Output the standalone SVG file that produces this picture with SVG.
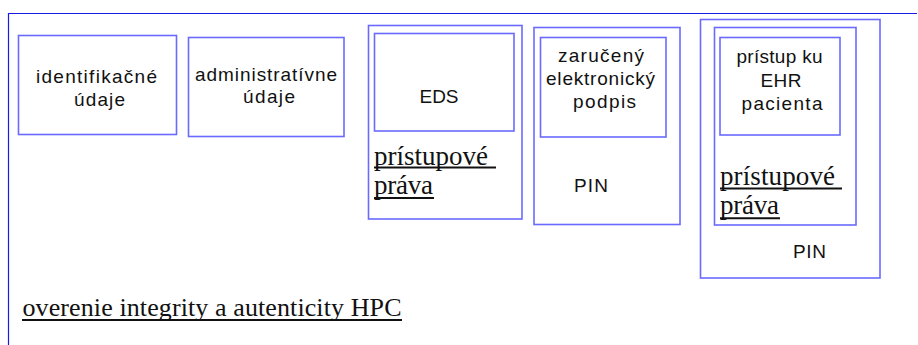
<svg xmlns="http://www.w3.org/2000/svg" width="918" height="345" viewBox="0 0 918 345">
  <style>
    .frame { stroke: #1a1ae6; stroke-width: 1.2; fill: none; }
    .box { stroke: #6a6aff; stroke-width: 1.6; fill: none; }
    .sans { font-family: "Liberation Sans", Arial, sans-serif; font-size: 19px; fill: #111; text-anchor: middle; }
    .serif { font-family: "Liberation Serif", "Times New Roman", serif; font-size: 27px; fill: #111; }
    .big { font-size: 26px; }
    .ul { stroke: #111; stroke-width: 2; }
  </style>
  <rect width="918" height="345" fill="#ffffff"/>

  <!-- outer frame (top and left edges only) -->
  <g id="frame">
    <line class="frame" x1="8" y1="13.5" x2="917" y2="13.5"/>
    <line class="frame" x1="8.5" y1="13" x2="8.5" y2="345"/>
  </g>

  <g id="identifikacne-udaje">
    <rect class="box" x="18.5" y="35.5" width="158" height="99"/>
    <text class="sans" x="96.5" y="83" textLength="121" lengthAdjust="spacing">identifikačné</text>
    <text class="sans" x="99.5" y="106" textLength="51" lengthAdjust="spacing">údaje</text>
  </g>

  <g id="administrativne-udaje">
    <rect class="box" x="188.5" y="37.5" width="155.5" height="99"/>
    <text class="sans" x="266" y="81" textLength="142" lengthAdjust="spacing">administratívne</text>
    <text class="sans" x="269" y="103" textLength="52" lengthAdjust="spacing">údaje</text>
  </g>

  <g id="eds">
    <rect class="box" x="368.5" y="25.5" width="153.5" height="193.5"/>
    <rect class="box" x="374.5" y="33.5" width="139.5" height="97.5"/>
    <text class="sans" x="439" y="103" textLength="39" lengthAdjust="spacing">EDS</text>
    <text class="serif" x="374" y="165" textLength="114" lengthAdjust="spacing">prístupové</text>
    <line class="ul" x1="374" y1="167.5" x2="496" y2="167.5"/>
    <text class="serif" x="374" y="193.5" textLength="59" lengthAdjust="spacing">práva</text>
    <line class="ul" x1="374" y1="198" x2="434" y2="198"/>
  </g>

  <g id="zaruceny-podpis">
    <rect class="box" x="534" y="27.5" width="146" height="197"/>
    <rect class="box" x="540.5" y="37.5" width="125.5" height="99.5"/>
    <text class="sans" x="601" y="62" textLength="86" lengthAdjust="spacing">zaručený</text>
    <text class="sans" x="600.5" y="85" textLength="109" lengthAdjust="spacing">elektronický</text>
    <text class="sans" x="604.5" y="108" textLength="63" lengthAdjust="spacing">podpis</text>
    <text class="sans" x="591" y="192" textLength="34" lengthAdjust="spacing">PIN</text>
  </g>

  <g id="pristup-ehr">
    <rect class="box" x="700.5" y="19.5" width="179.5" height="258.5"/>
    <rect class="box" x="714.5" y="27.5" width="141.5" height="197.5"/>
    <rect class="box" x="720" y="37.5" width="120" height="97.5"/>
    <text class="sans" x="779.5" y="63" textLength="86" lengthAdjust="spacing">prístup ku</text>
    <text class="sans" x="781" y="87" textLength="41" lengthAdjust="spacing">EHR</text>
    <text class="sans" x="782" y="110" textLength="81" lengthAdjust="spacing">pacienta</text>
    <text class="serif" x="720" y="184.5" textLength="115" lengthAdjust="spacing">prístupové</text>
    <line class="ul" x1="720" y1="188.5" x2="842" y2="188.5"/>
    <text class="serif" x="720" y="213.5" textLength="59" lengthAdjust="spacing">práva</text>
    <line class="ul" x1="720" y1="218.3" x2="780" y2="218.3"/>
    <text class="sans" x="809.5" y="258" textLength="33" lengthAdjust="spacing">PIN</text>
  </g>

  <g id="overenie">
    <text class="serif big" x="22.5" y="316" textLength="379" lengthAdjust="spacing">overenie integrity a autenticity HPC</text>
    <line class="ul" x1="22" y1="320" x2="402" y2="320"/>
  </g>
</svg>
